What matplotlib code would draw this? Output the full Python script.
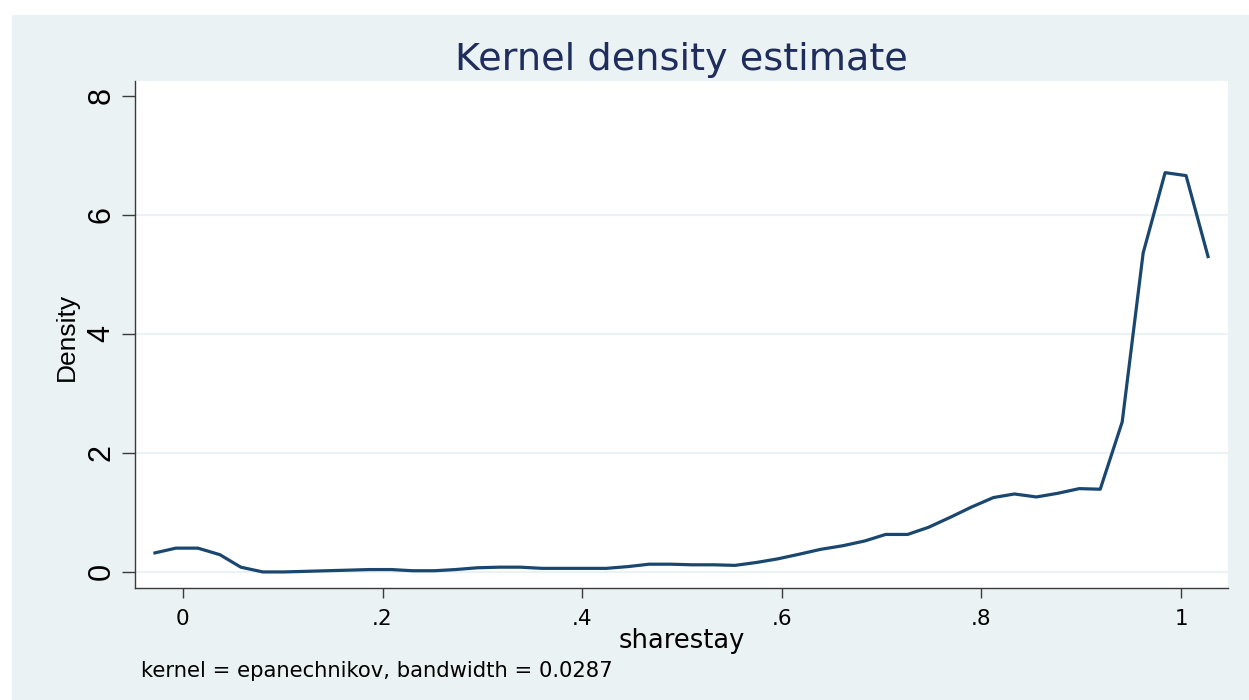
import matplotlib
matplotlib.use('Agg')
import matplotlib.pyplot as plt
from matplotlib import font_manager
from matplotlib.patches import Rectangle

# evaluation points of the kernel density
sharestay = [-0.028, -0.007, 0.015, 0.037, 0.058, 0.080, 0.101, 0.123, 0.144, 0.166,
             0.187, 0.209, 0.230, 0.252, 0.273, 0.295, 0.317, 0.338, 0.360, 0.381,
             0.403, 0.424, 0.446, 0.467, 0.489, 0.510, 0.532, 0.553, 0.575, 0.596,
             0.618, 0.639, 0.661, 0.683, 0.704, 0.726, 0.747, 0.769, 0.790, 0.812,
             0.833, 0.855, 0.876, 0.898, 0.919, 0.941, 0.962, 0.984, 1.005, 1.027]
density = [0.32, 0.40, 0.40, 0.29, 0.08, 0.00, 0.00, 0.01, 0.02, 0.03,
           0.04, 0.04, 0.02, 0.02, 0.04, 0.07, 0.08, 0.08, 0.06, 0.06,
           0.06, 0.06, 0.09, 0.13, 0.13, 0.12, 0.12, 0.11, 0.16, 0.22,
           0.30, 0.38, 0.44, 0.52, 0.63, 0.63, 0.75, 0.92, 1.09, 1.25,
           1.31, 1.26, 1.32, 1.40, 1.39, 2.52, 5.36, 6.71, 6.66, 5.30]

xticks = [0, 0.2, 0.4, 0.6, 0.8, 1.0]
xticklabels = ['0', '.2', '.4', '.6', '.8', '1']
yticks = [0, 2, 4, 6, 8]
yticklabels = ['0', '2', '4', '6', '8']

title = 'Kernel density estimate'
xlabel = 'sharestay'
ylabel = 'Density'
note = 'kernel = epanechnikov, bandwidth = 0.0287'

BG = '#EAF2F3'
LINE = '#1A476F'
TITLE_COL = '#1F2D5C'

# narrow font for the rotated y-axis texts if we have one
names = {f.name for f in font_manager.fontManager.ttflist}
if 'Liberation Sans Narrow' in names:
    vfont, vtick_size, vlabel_size = 'Liberation Sans Narrow', 23, 22
else:
    vfont, vtick_size, vlabel_size = 'Liberation Sans', 22, 19
hfont = 'DejaVu Sans'


def main():
    W, H = 1249, 700
    fig = plt.figure(figsize=(W / 100, H / 100), dpi=100)
    fig.patch.set_facecolor('white')
    # Stata-like graph region
    fig.patches.append(Rectangle((12 / W, 0), 1, 1 - 15 / H, transform=fig.transFigure,
                                 facecolor=BG, edgecolor='none', zorder=-10))

    left, right, top, bottom = 135, 1228, 81, 588
    ax = fig.add_axes([left / W, 1 - bottom / H, (right - left) / W, (bottom - top) / H])
    ax.set_facecolor('white')

    for g in yticks[:-1]:
        ax.axhline(g, color=BG, linewidth=1.6, zorder=1)

    ax.plot(sharestay, density, color=LINE, linewidth=2.3, zorder=3)

    ax.set_xlim(-0.048, 1.047)
    ax.set_ylim(-0.27, 8.25)

    for s in ['top', 'right']:
        ax.spines[s].set_visible(False)
    for s in ['left', 'bottom']:
        ax.spines[s].set_color('#3a3a3a')
        ax.spines[s].set_linewidth(1.0)

    ax.set_xticks(xticks)
    ax.set_xticklabels(xticklabels, fontsize=15.5, family=hfont)
    ax.set_yticks(yticks)
    ax.set_yticklabels(yticklabels, fontsize=vtick_size, family=vfont)
    ax.tick_params(axis='x', length=7.2, width=1.0, color='#3a3a3a', pad=8)
    ax.tick_params(axis='y', length=9.2, width=1.0, color='#3a3a3a', pad=4,
                   labelrotation=90)
    for t in ax.get_yticklabels():
        t.set_va('center')

    ax.set_title(title, fontsize=27.5, family=hfont, color=TITLE_COL,
                 y=(bottom - 70) / (bottom - top), pad=0)

    ax.set_xlabel(xlabel, fontsize=18.5, family=hfont)
    ax.xaxis.label.set_va('baseline')
    ax.xaxis.set_label_coords(0.5, -(647.7 - bottom) / (bottom - top))

    ax.set_ylabel(ylabel, fontsize=vlabel_size, family=vfont)
    ax.yaxis.label.set_va('baseline')
    ax.yaxis.set_label_coords((74 - left) / (right - left), 0.495)

    fig.text(141 / W, 1 - 676.7 / H, note, fontsize=15.2, family=hfont,
             ha='left', va='baseline')

    fig.savefig('out.png', dpi=100)


if __name__ == '__main__':
    main()
